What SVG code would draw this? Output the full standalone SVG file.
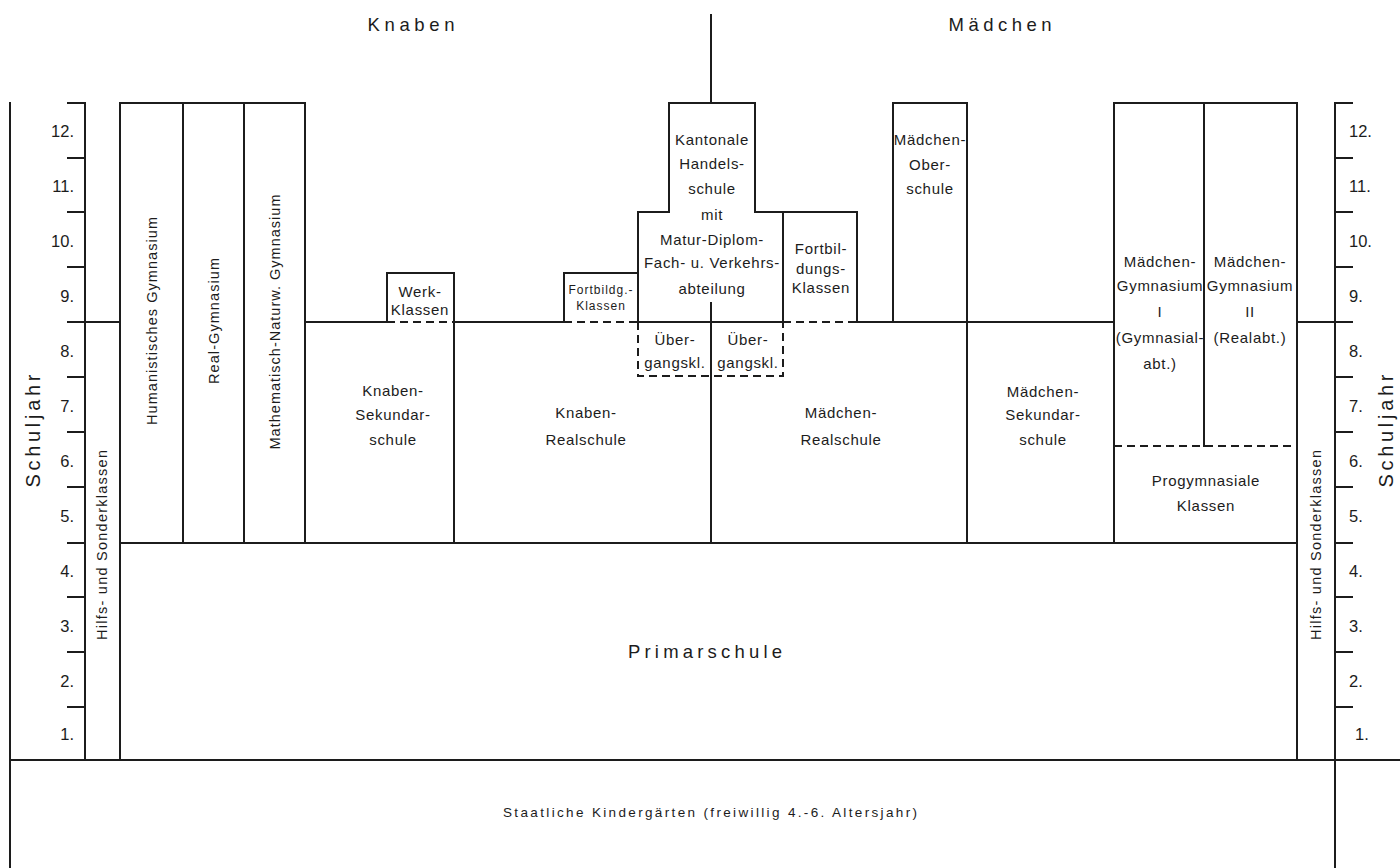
<svg xmlns="http://www.w3.org/2000/svg" width="1400" height="868" viewBox="0 0 1400 868">
<style>
.ln{stroke:#1c1c1c;stroke-width:2;fill:none;stroke-linecap:square}
.ds{stroke:#1c1c1c;stroke-width:2;fill:none;stroke-dasharray:8 5}
text{font-family:"Liberation Sans",Arial,sans-serif;fill:#1c1c1c}
.t{font-size:15px;letter-spacing:0.7px;text-anchor:middle}
.s{font-size:12px;letter-spacing:1px;text-anchor:middle}
.n{font-size:16.5px}
.r{font-size:14.5px;text-anchor:middle}
.big{font-size:18.5px;text-anchor:middle}
</style>
<rect width="1400" height="868" fill="#fff"/>

<g id="axes">
  <path class="ln" d="M10,103V868 M85,103V760 M1335,103V868 M10,760H1400"/>
  <path class="ln" d="M68,103H85 M68,158H85 M68,212H85 M68,267H85 M68,322H120 M68,377H85 M68,432H85 M68,487H85 M68,543H85 M68,597H85 M68,652H85 M68,707H85"/>
  <path class="ln" d="M1335,103H1352 M1335,158H1352 M1335,212H1352 M1335,267H1352 M1297,322H1352 M1335,377H1352 M1335,432H1352 M1335,487H1352 M1335,543H1352 M1335,597H1352 M1335,652H1352 M1335,707H1352"/>
  <g class="n" text-anchor="end">
    <text x="74" y="137">12.</text><text x="74" y="192">11.</text><text x="74" y="247">10.</text><text x="74" y="302">9.</text>
    <text x="74" y="357">8.</text><text x="74" y="412">7.</text><text x="74" y="467">6.</text><text x="74" y="522">5.</text>
    <text x="74" y="577">4.</text><text x="74" y="632">3.</text><text x="74" y="687">2.</text><text x="74" y="740">1.</text>
  </g>
  <g class="n">
    <text x="1349" y="137">12.</text><text x="1349" y="192">11.</text><text x="1349" y="247">10.</text><text x="1349" y="302">9.</text>
    <text x="1349" y="357">8.</text><text x="1349" y="412">7.</text><text x="1349" y="467">6.</text><text x="1349" y="522">5.</text>
    <text x="1349" y="577">4.</text><text x="1349" y="632">3.</text><text x="1349" y="687">2.</text><text x="1355" y="740">1.</text>
  </g>
  <text transform="translate(40,431) rotate(-90)" font-size="20" text-anchor="middle" textLength="113" lengthAdjust="spacing">Schuljahr</text>
  <text transform="translate(1393,431) rotate(-90)" font-size="20" text-anchor="middle" textLength="113" lengthAdjust="spacing">Schuljahr</text>
  <text class="big" x="411" y="31" textLength="87" lengthAdjust="spacing">Knaben</text>
  <text class="big" x="1000" y="31" textLength="103" lengthAdjust="spacing">Mädchen</text>
</g>

<g id="connectors">
  <path class="ln" d="M711,15V103 M711,303V543"/>
  <path class="ln" d="M305,322H387 M454,322H564 M638,322H783 M857,322H1114"/>
  <path class="ds" d="M387,322H454 M564,322H638 M783,322H857"/>
</g>

<g id="hilfs-links">
  <path class="ln" d="M120,103V760"/>
  <text transform="translate(107,545) rotate(-90)" class="r" textLength="190" lengthAdjust="spacing">Hilfs- und Sonderklassen</text>
</g>
<g id="hilfs-rechts">
  <path class="ln" d="M1297,103V760"/>
  <text transform="translate(1321,545) rotate(-90)" class="r" textLength="190" lengthAdjust="spacing">Hilfs- und Sonderklassen</text>
</g>

<g id="gymnasien-knaben">
  <path class="ln" d="M120,103H305V543 M183,103V543 M244,103V543"/>
  <text transform="translate(157,321) rotate(-90)" class="r" textLength="208" lengthAdjust="spacing">Humanistisches Gymnasium</text>
  <text transform="translate(219,321) rotate(-90)" class="r" textLength="126" lengthAdjust="spacing">Real-Gymnasium</text>
  <text transform="translate(280,322) rotate(-90)" class="r" textLength="255" lengthAdjust="spacing">Mathematisch-Naturw. Gymnasium</text>
</g>

<g id="werkklassen">
  <path class="ln" d="M387,322V273H454V543"/>
  <text class="t" x="420" y="297">Werk-</text>
  <text class="t" x="420" y="315">Klassen</text>
</g>

<g id="knaben-sekundarschule">
  <text class="t" x="393" y="396">Knaben-</text>
  <text class="t" x="393" y="420">Sekundar-</text>
  <text class="t" x="393" y="445">schule</text>
</g>

<g id="knaben-realschule">
  <text class="t" x="586" y="418">Knaben-</text>
  <text class="t" x="586" y="445">Realschule</text>
</g>

<g id="fortbildg-klassen">
  <path class="ln" d="M564,322V273H638"/>
  <text class="s" x="601" y="294">Fortbildg.-</text>
  <text class="s" x="601" y="310">Klassen</text>
</g>

<g id="handelsschule">
  <path class="ln" d="M638,322V212H669V103H755V212H783V322"/>
  <text class="t" x="712" y="145">Kantonale</text>
  <text class="t" x="712" y="169">Handels-</text>
  <text class="t" x="712" y="194">schule</text>
  <text class="t" x="712" y="220">mit</text>
  <text class="t" x="712" y="245">Matur-Diplom-</text>
  <text class="t" x="712" y="268">Fach- u. Verkehrs-</text>
  <text class="t" x="712" y="294">abteilung</text>
</g>

<g id="uebergangsklassen">
  <path class="ds" d="M638,322V376H783V322"/>
  <text class="t" x="675" y="345">Über-</text>
  <text class="t" x="675" y="368">gangskl.</text>
  <text class="t" x="748" y="345">Über-</text>
  <text class="t" x="748" y="368">gangskl.</text>
</g>

<g id="fortbildungs-klassen">
  <path class="ln" d="M755,212H857V322"/>
  <text class="t" x="821" y="254">Fortbil-</text>
  <text class="t" x="821" y="274">dungs-</text>
  <text class="t" x="821" y="293">Klassen</text>
</g>

<g id="maedchen-realschule">
  <text class="t" x="841" y="418">Mädchen-</text>
  <text class="t" x="841" y="445">Realschule</text>
</g>

<g id="maedchen-oberschule">
  <path class="ln" d="M893,322V103H967V543"/>
  <text class="t" x="930" y="145">Mädchen-</text>
  <text class="t" x="930" y="170">Ober-</text>
  <text class="t" x="930" y="194">schule</text>
</g>

<g id="maedchen-sekundarschule">
  <text class="t" x="1043" y="397">Mädchen-</text>
  <text class="t" x="1043" y="420">Sekundar-</text>
  <text class="t" x="1043" y="445">schule</text>
</g>

<g id="maedchen-gymnasium">
  <path class="ln" d="M1114,543V103H1297 M1204,103V446"/>
  <path class="ds" d="M1114,446H1297"/>
  <text class="t" x="1160" y="267">Mädchen-</text>
  <text class="t" x="1160" y="291">Gymnasium</text>
  <text class="t" x="1160" y="317">I</text>
  <text class="t" x="1160" y="343">(Gymnasial-</text>
  <text class="t" x="1160" y="369">abt.)</text>
  <text class="t" x="1250" y="267">Mädchen-</text>
  <text class="t" x="1250" y="291">Gymnasium</text>
  <text class="t" x="1250" y="317">II</text>
  <text class="t" x="1250" y="343">(Realabt.)</text>
</g>

<g id="progymnasiale-klassen">
  <text class="t" x="1206" y="486">Progymnasiale</text>
  <text class="t" x="1206" y="511">Klassen</text>
</g>

<g id="primarschule">
  <path class="ln" d="M120,543H1297"/>
  <text class="big" x="705" y="658" textLength="154" lengthAdjust="spacing">Primarschule</text>
</g>

<g id="kindergaerten">
  <text x="710" y="817" font-size="13.5" text-anchor="middle" textLength="414" lengthAdjust="spacing">Staatliche Kindergärten (freiwillig 4.-6. Altersjahr)</text>
</g>
</svg>
